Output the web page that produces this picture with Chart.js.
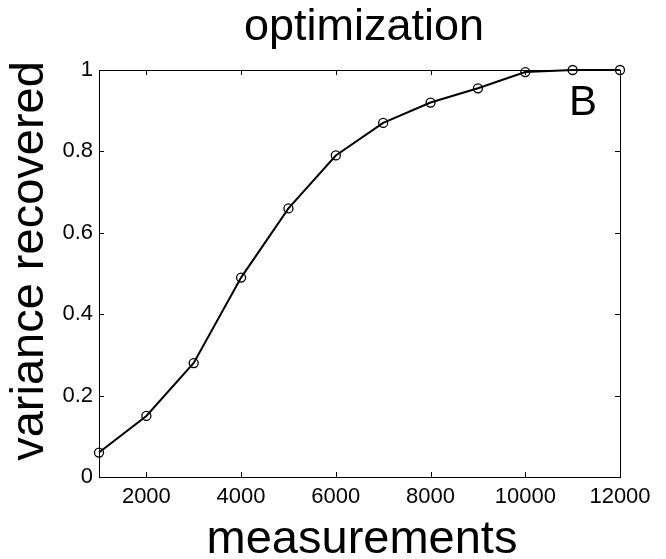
<!DOCTYPE html>
<html>
<head>
<meta charset="utf-8">
<title>optimization</title>
<script src="https://cdn.jsdelivr.net/npm/chart.js@4.4.1/dist/chart.umd.min.js"></script>
<style>
    html, body { margin: 0; padding: 0; background: #fff; }
    #wrap { width: 666px; height: 559px; }
</style>
</head>
<body>
<div id="wrap"><canvas id="chart" width="666" height="559"></canvas></div>
<script>
// valores
const measurements = [1000, 2000, 3000, 4000, 5000, 6000, 7000, 8000, 9000, 10000, 11000, 12000];
const varianceRecovered = [0.06, 0.15, 0.28, 0.49, 0.66, 0.79, 0.87, 0.92, 0.955, 0.995, 1.0, 1.0];
const xTicks = [2000, 4000, 6000, 8000, 10000, 12000];
const yTicks = [0, 0.2, 0.4, 0.6, 0.8, 1];

const FONT = "'Liberation Sans', Arial, sans-serif";

// caixa estilo MATLAB, ticks para dentro e textos
const matlabFrame = {
    id: 'matlabFrame',
    afterDraw(chart) {
        const { ctx, chartArea: a, scales: { x, y } } = chart;
        const len = 5;
        ctx.save();
        ctx.strokeStyle = '#000';
        ctx.lineWidth = 1;
        ctx.strokeRect(a.left + 0.5, a.top + 0.5, a.right - a.left, a.bottom - a.top);

        ctx.beginPath();
        xTicks.forEach(v => {
            const px = Math.round(x.getPixelForValue(v)) + 0.5;
            ctx.moveTo(px, a.bottom); ctx.lineTo(px, a.bottom - len);
            ctx.moveTo(px, a.top); ctx.lineTo(px, a.top + len);
        });
        yTicks.forEach(v => {
            const py = Math.round(y.getPixelForValue(v)) + 0.5;
            ctx.moveTo(a.left, py); ctx.lineTo(a.left + len, py);
            ctx.moveTo(a.right, py); ctx.lineTo(a.right - len, py);
        });
        ctx.stroke();

        ctx.fillStyle = '#000';
        ctx.textBaseline = 'alphabetic';

        // título
        ctx.font = '45px ' + FONT;
        ctx.textAlign = 'center';
        ctx.fillText('optimization', 364, 40);

        // rótulo do eixo x
        ctx.font = '47px ' + FONT;
        ctx.fillText('measurements', 362, 553);

        // rótulo do eixo y
        ctx.save();
        ctx.translate(43, 261);
        ctx.rotate(-Math.PI / 2);
        ctx.fillText('variance recovered', 0, 0);
        ctx.restore();

        // letra do painel
        ctx.font = '42px ' + FONT;
        ctx.textAlign = 'left';
        ctx.fillText('B', 569, 115);
        ctx.restore();
    }
};

new Chart(document.getElementById('chart'), {
    type: 'line',
    data: {
        datasets: [{
            data: measurements.map((m, i) => ({ x: m, y: varianceRecovered[i] })),
            borderColor: '#000',
            borderWidth: 2,
            tension: 0,
            pointRadius: 4.5,
            pointBorderWidth: 1.3,
            pointBorderColor: '#000',
            pointBackgroundColor: 'rgba(0,0,0,0)',
            clip: false
        }]
    },
    options: {
        responsive: false,
        animation: false,
        layout: { padding: { top: 70, right: 46, left: 0, bottom: 0 } },
        plugins: {
            legend: { display: false },
            tooltip: { enabled: false },
            title: { display: false }
        },
        scales: {
            x: {
                type: 'linear',
                min: 1000,
                max: 12000,
                afterBuildTicks: s => { s.ticks = xTicks.map(v => ({ value: v })); },
                afterFit: s => { s.height = 82; },
                grid: { display: false, drawTicks: false },
                border: { display: false },
                ticks: {
                    padding: 7,
                    color: '#000',
                    maxRotation: 0,
                    callback: v => String(v),
                    font: { family: FONT, size: 22 }
                }
            },
            y: {
                type: 'linear',
                min: 0,
                max: 1,
                afterBuildTicks: s => { s.ticks = yTicks.map(v => ({ value: v })); },
                afterFit: s => { s.width = 99; },
                grid: { display: false, drawTicks: false },
                border: { display: false },
                ticks: {
                    padding: 6,
                    color: '#000',
                    callback: v => String(v),
                    font: { family: FONT, size: 22 }
                }
            }
        }
    },
    plugins: [matlabFrame]
});
</script>
</body>
</html>
